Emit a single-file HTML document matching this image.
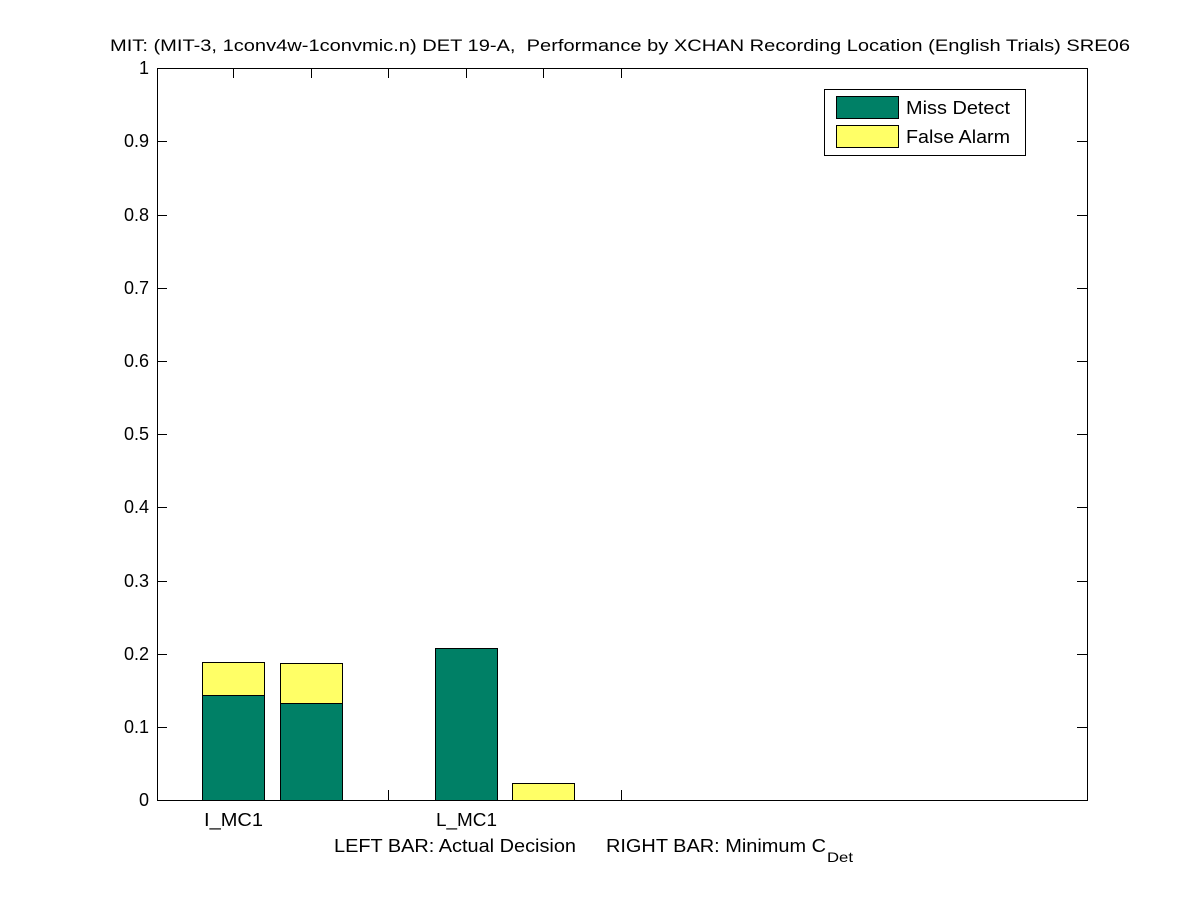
<!DOCTYPE html>
<html><head><meta charset="utf-8"><style>body{margin:0;background:#fff}</style></head><body>
<svg width="1201" height="900" xmlns="http://www.w3.org/2000/svg" font-family="Liberation Sans, sans-serif" font-size="18">
<rect width="1201" height="900" fill="#fff"/>
<text x="110" y="51" font-size="17" textLength="1020" lengthAdjust="spacingAndGlyphs" xml:space="preserve">MIT: (MIT-3, 1conv4w-1convmic.n) DET 19-A,  Performance by XCHAN Recording Location (English Trials) SRE06</text>
<g stroke="#000" stroke-width="1">
<path d="M233.5 800v-10M311.5 800v-10M388.5 800v-10M466.5 800v-10M543.5 800v-10M621.5 800v-10M233.5 68v10M311.5 68v10M388.5 68v10M466.5 68v10M543.5 68v10M621.5 68v10"/>
<rect x="202.5" y="662.5" width="62" height="33" fill="#ffff66"/>
<rect x="202.5" y="695.5" width="62" height="105" fill="#008066"/>
<rect x="280.5" y="663.5" width="62" height="40" fill="#ffff66"/>
<rect x="280.5" y="703.5" width="62" height="97" fill="#008066"/>
<rect x="435.5" y="648.5" width="62" height="152" fill="#008066"/>
<rect x="512.5" y="783.5" width="62" height="17" fill="#ffff66"/>
<rect x="157.5" y="68.5" width="930" height="732" fill="none"/>
</g>
<g stroke="#000">
<path d="M157 800.5h10M157 727.5h10M157 654.5h10M157 581.5h10M157 507.5h10M157 434.5h10M157 361.5h10M157 288.5h10M157 215.5h10M157 141.5h10M157 68.5h10"/>
<path d="M1087 800.5h-10M1087 727.5h-10M1087 654.5h-10M1087 581.5h-10M1087 507.5h-10M1087 434.5h-10M1087 361.5h-10M1087 288.5h-10M1087 215.5h-10M1087 141.5h-10M1087 68.5h-10"/>
</g>
<g text-anchor="end">
<text x="149" y="806">0</text><text x="149" y="733">0.1</text><text x="149" y="660">0.2</text><text x="149" y="587">0.3</text><text x="149" y="513">0.4</text><text x="149" y="440">0.5</text><text x="149" y="367">0.6</text><text x="149" y="294">0.7</text><text x="149" y="221">0.8</text><text x="149" y="147">0.9</text><text x="149" y="74">1</text>
</g>
<text x="204" y="826" textLength="59" lengthAdjust="spacingAndGlyphs">I_MC1</text>
<text x="436" y="826" textLength="61" lengthAdjust="spacingAndGlyphs">L_MC1</text>
<text x="334" y="852" textLength="242" lengthAdjust="spacingAndGlyphs">LEFT BAR: Actual Decision</text>
<text x="606" y="852" textLength="220" lengthAdjust="spacingAndGlyphs">RIGHT BAR: Minimum C</text>
<text x="827" y="862" font-size="14" textLength="26" lengthAdjust="spacingAndGlyphs">Det</text>
<rect x="824.5" y="89.5" width="201" height="66" fill="#fff" stroke="#000"/>
<rect x="836.5" y="96.5" width="62" height="22" fill="#008066" stroke="#000"/>
<rect x="836.5" y="125.5" width="62" height="22" fill="#ffff66" stroke="#000"/>
<text x="906" y="114" textLength="104" lengthAdjust="spacingAndGlyphs">Miss Detect</text>
<text x="906" y="143" textLength="104" lengthAdjust="spacingAndGlyphs">False Alarm</text>
</svg>
</body></html>
